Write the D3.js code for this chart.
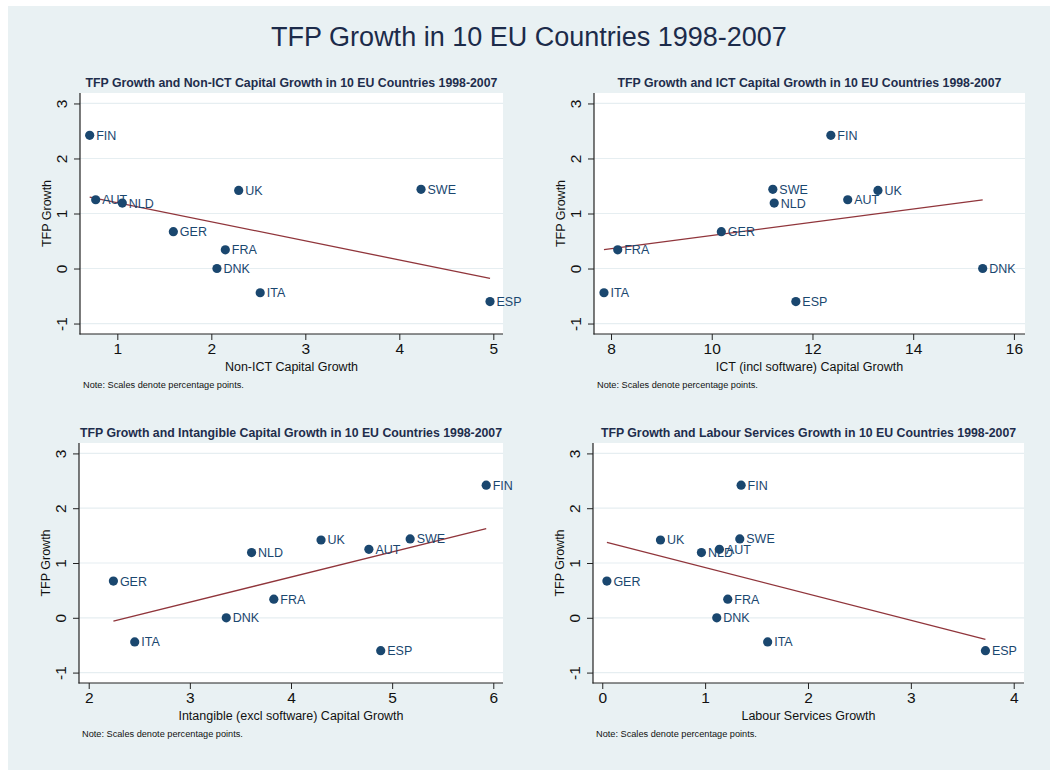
<!DOCTYPE html>
<html>
<head>
<meta charset="utf-8">
<script src="https://cdn.jsdelivr.net/npm/d3@7"></script>
<style>
  body { margin: 0; background: #fff; }
  svg text { font-family: "Liberation Sans", Arial, sans-serif; }
</style>
</head>
<body>
<div id="chart"></div>
<script>
// Country codes, same order in every array
var countries = ["FIN", "AUT", "NLD", "GER", "UK", "SWE", "FRA", "DNK", "ITA", "ESP"];

// TFP growth (y axis, shared by all four panels)
var tfpGrowth = [2.42, 1.25, 1.19, 0.67, 1.42, 1.44, 0.34, 0.00, -0.44, -0.60];

// x values of each panel
var nonIctGrowth     = [0.706, 0.770, 1.053, 1.596, 2.291, 4.231, 2.149, 2.060, 2.520, 4.965];
var ictGrowth        = [12.365, 12.70, 11.24, 10.19, 13.30, 11.213, 8.133, 15.38, 7.86, 11.67];
var intangibleGrowth = [5.93, 4.77, 3.61, 2.244, 4.297, 5.178, 3.83, 3.36, 2.455, 4.887];
var labourGrowth     = [1.35, 1.139, 0.964, 0.045, 0.566, 1.337, 1.22, 1.113, 1.608, 3.725];

// tick labels
var yTicks = [-1, 0, 1, 2, 3];
var nonIctTicks = [1, 2, 3, 4, 5];
var ictTicks = [8, 10, 12, 14, 16];
var intangibleTicks = [2, 3, 4, 5, 6];
var labourTicks = [0, 1, 2, 3, 4];

var mainTitle = "TFP Growth in 10 EU Countries 1998-2007";
var noteText = "Note: Scales denote percentage points.";
var yTitle = "TFP Growth";

var svg = d3.select("#chart").append("svg").attr("width", 1050).attr("height", 770);

// graph region background
svg.append("rect").attr("x", 8).attr("y", 6).attr("width", 1042).attr("height", 764).attr("fill", "#e9f1f3");

svg.append("text")
    .attr("x", 529).attr("y", 46)
    .attr("text-anchor", "middle")
    .attr("font-size", 27)
    .attr("fill", "#1c2b4a")
    .text(mainTitle);

// least squares fit, like Stata's lfit
function lfit(xs, ys) {
    var mx = d3.mean(xs), my = d3.mean(ys);
    var sxy = d3.sum(xs, function (x, i) { return (x - mx) * (ys[i] - my); });
    var sxx = d3.sum(xs, function (x) { return (x - mx) * (x - mx); });
    var b = sxy / sxx;
    return function (x) { return my + b * (x - mx); };
}

// plain hyphen for negatives, as in the original
var tickFmt = function (d) { return String(d); };

function makeScatterPanel(box, xValues, xDomain, xTicks, subTitle, xTitle) {
    var g = svg.append("g");
    var xScale = d3.scaleLinear().domain(xDomain).range([box.x0, box.x1]);
    var yScale = d3.scaleLinear().domain([-1.19, 3.19]).range([box.y1, box.y0]);

    // plot region
    g.append("rect")
        .attr("x", box.x0).attr("y", box.y0)
        .attr("width", box.x1 - box.x0).attr("height", box.y1 - box.y0)
        .attr("fill", "#fff");

    // grid lines
    g.selectAll("line.grid").data(yTicks).enter().append("line")
        .attr("class", "grid")
        .attr("x1", box.x0).attr("x2", box.x1)
        .attr("y1", function (d) { return yScale(d); })
        .attr("y2", function (d) { return yScale(d); })
        .attr("stroke", "#e6eef1").attr("stroke-width", 1.2);

    // y axis
    var yAxis = d3.axisLeft(yScale).tickValues(yTicks).tickSize(6).tickPadding(3).tickFormat(tickFmt);
    var ya = g.append("g").attr("transform", "translate(" + box.x0 + ",0)").call(yAxis);
    ya.select(".domain").remove();
    ya.selectAll(".tick line").attr("stroke", "#222");
    ya.selectAll(".tick text")
        .attr("font-size", 15.5).attr("fill", "#111")
        .attr("x", null).attr("dy", null)
        .attr("text-anchor", "middle")
        .attr("transform", "translate(-13,0) rotate(-90)");
    g.append("line")
        .attr("x1", box.x0).attr("x2", box.x0)
        .attr("y1", box.y0).attr("y2", box.y1 + 0.5)
        .attr("stroke", "#222").attr("stroke-width", 1.2);

    // x axis
    var xAxis = d3.axisBottom(xScale).tickValues(xTicks).tickSize(6).tickPadding(3).tickFormat(tickFmt);
    var xa = g.append("g").attr("transform", "translate(0," + box.y1 + ")").call(xAxis);
    xa.select(".domain").remove();
    xa.selectAll(".tick line").attr("stroke", "#222");
    xa.selectAll(".tick text").attr("font-size", 15.5).attr("fill", "#111").attr("dy", "0.72em").attr("y", 9);
    g.append("line")
        .attr("x1", box.x0 - 0.5).attr("x2", box.x1)
        .attr("y1", box.y1).attr("y2", box.y1)
        .attr("stroke", "#222").attr("stroke-width", 1.2);

    // titles
    var cx = (box.x0 + box.x1) / 2, cy = (box.y0 + box.y1) / 2;
    g.append("text")
        .attr("transform", "translate(" + (box.x0 - 29) + "," + cy + ") rotate(-90)")
        .attr("text-anchor", "middle").attr("font-size", 12.5).attr("fill", "#111")
        .text(yTitle);
    g.append("text")
        .attr("x", cx).attr("y", box.y1 + 37)
        .attr("text-anchor", "middle").attr("font-size", 12.5).attr("fill", "#111")
        .text(xTitle);
    g.append("text")
        .attr("x", box.x0 + 3).attr("y", box.y1 + 54)
        .attr("font-size", 9.2).attr("fill", "#111")
        .text(noteText);
    g.append("text")
        .attr("x", cx).attr("y", box.y0 - 6)
        .attr("text-anchor", "middle").attr("font-size", 12.3).attr("font-weight", "bold")
        .attr("fill", "#1e2d4c")
        .text(subTitle);

    // fitted line over the data range
    var fit = lfit(xValues, tfpGrowth);
    var ext = d3.extent(xValues);
    g.append("path")
        .datum(ext)
        .attr("d", d3.line().x(function (d) { return xScale(d); }).y(function (d) { return yScale(fit(d)); }))
        .attr("stroke", "#90353b").attr("stroke-width", 1.3).attr("fill", "none");

    // points and labels
    var pts = g.selectAll("g.pt").data(countries).enter().append("g").attr("class", "pt")
        .attr("transform", function (d, i) {
            return "translate(" + xScale(xValues[i]) + "," + yScale(tfpGrowth[i]) + ")";
        });
    pts.append("circle").attr("r", 4.6).attr("fill", "#1a476f");
    pts.append("text")
        .attr("x", 6.5).attr("y", 4.5)
        .attr("font-size", 12.5).attr("fill", "#1a476f")
        .text(function (d) { return d; });

    return g;
}

makeScatterPanel({x0: 80, x1: 503, y0: 93, y1: 334}, nonIctGrowth, [0.603, 5.103], nonIctTicks,
    "TFP Growth and Non-ICT Capital Growth in 10 EU Countries 1998-2007", "Non-ICT Capital Growth");
makeScatterPanel({x0: 594, x1: 1025, y0: 93, y1: 334}, ictGrowth, [7.662, 16.22], ictTicks,
    "TFP Growth and ICT Capital Growth in 10 EU Countries 1998-2007", "ICT (incl software) Capital Growth");
makeScatterPanel({x0: 79, x1: 503, y0: 443, y1: 683}, intangibleGrowth, [1.904, 6.096], intangibleTicks,
    "TFP Growth and Intangible Capital Growth in 10 EU Countries 1998-2007", "Intangible (excl software) Capital Growth");
makeScatterPanel({x0: 593, x1: 1024, y0: 443, y1: 683}, labourGrowth, [-0.09, 4.1], labourTicks,
    "TFP Growth and Labour Services Growth in 10 EU Countries 1998-2007", "Labour Services Growth");
</script>
</body>
</html>
